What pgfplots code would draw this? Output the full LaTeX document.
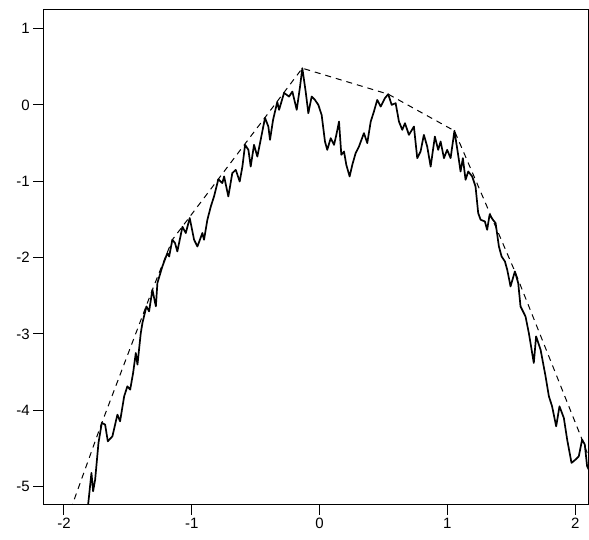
\documentclass[border=0pt]{standalone}
\usepackage{fontspec}
\setmainfont{Liberation Sans}
\usepackage{pgfplots}
\pgfplotsset{compat=1.18}

% path
\pgfplotstableread{
x y
-1.815 -5.301
-1.785 -4.821
-1.772 -5.061
-1.756 -4.908
-1.730 -4.428
-1.704 -4.166
-1.678 -4.188
-1.657 -4.407
-1.621 -4.342
-1.582 -4.058
-1.561 -4.145
-1.529 -3.818
-1.504 -3.687
-1.482 -3.730
-1.459 -3.512
-1.438 -3.250
-1.425 -3.403
-1.399 -2.988
-1.386 -2.857
-1.355 -2.640
-1.334 -2.705
-1.308 -2.421
-1.281 -2.640
-1.269 -2.334
-1.230 -2.116
-1.191 -1.941
-1.177 -1.986
-1.152 -1.767
-1.131 -1.810
-1.113 -1.920
-1.073 -1.597
-1.047 -1.679
-1.016 -1.483
-0.982 -1.767
-0.956 -1.855
-0.917 -1.679
-0.904 -1.767
-0.878 -1.505
-0.851 -1.331
-0.826 -1.200
-0.792 -0.975
-0.761 -1.025
-0.747 -0.938
-0.714 -1.200
-0.683 -0.894
-0.656 -0.851
-0.625 -1.004
-0.604 -0.808
-0.583 -0.524
-0.557 -0.589
-0.539 -0.808
-0.513 -0.524
-0.487 -0.677
-0.461 -0.458
-0.427 -0.170
-0.401 -0.284
-0.388 -0.458
-0.364 -0.196
-0.331 0.039
-0.317 -0.065
-0.278 0.157
-0.239 0.109
-0.213 0.174
-0.179 -0.065
-0.153 0.240
-0.135 0.480
-0.109 0.174
-0.088 -0.109
-0.062 0.109
-0.036 0.065
-0.010 0.000
0.016 -0.131
0.042 -0.480
0.060 -0.589
0.087 -0.436
0.113 -0.524
0.131 -0.393
0.152 -0.219
0.170 -0.654
0.191 -0.611
0.209 -0.785
0.235 -0.938
0.256 -0.785
0.282 -0.632
0.308 -0.546
0.347 -0.370
0.373 -0.501
0.400 -0.219
0.425 -0.088
0.451 0.065
0.478 -0.022
0.511 0.088
0.537 0.140
0.564 0.000
0.595 0.022
0.621 -0.219
0.647 -0.327
0.668 -0.240
0.699 -0.393
0.738 -0.284
0.764 -0.698
0.790 -0.611
0.816 -0.393
0.842 -0.546
0.869 -0.808
0.902 -0.415
0.928 -0.589
0.947 -0.480
0.973 -0.698
0.998 -0.589
1.025 -0.698
1.055 -0.340
1.084 -0.654
1.103 -0.873
1.121 -0.698
1.142 -0.982
1.163 -0.873
1.194 -0.938
1.220 -1.069
1.241 -1.418
1.260 -1.505
1.293 -1.527
1.311 -1.636
1.330 -1.440
1.356 -1.505
1.377 -1.548
1.403 -1.855
1.424 -1.986
1.450 -2.051
1.468 -2.160
1.494 -2.378
1.528 -2.182
1.554 -2.334
1.572 -2.640
1.611 -2.771
1.637 -2.988
1.676 -3.381
1.694 -3.033
1.729 -3.207
1.768 -3.556
1.794 -3.818
1.819 -3.949
1.851 -4.211
1.877 -3.949
1.911 -4.101
1.937 -4.385
1.971 -4.690
2.002 -4.647
2.028 -4.603
2.054 -4.385
2.075 -4.450
2.093 -4.734
2.106 -4.777
}\pathdata

% concave majorant
\pgfplotstableread{
x y
-1.948 -5.301
-1.704 -4.166
-1.308 -2.421
-1.152 -1.767
-0.135 0.480
0.537 0.140
1.055 -0.340
1.528 -2.182
2.054 -4.385
2.099 -4.581
}\hulldata

\begin{document}
\begin{tikzpicture}
\begin{axis}[
  name=ax,
  scale only axis,
  width=545.7pt, height=495pt,
  xmin=-2.162, xmax=2.104,
  ymin=-5.236, ymax=1.243,
  xtick={-2,-1,0,1,2},
  xticklabels={-2,-1,0,1,2},
  ytick={-5,-4,-3,-2,-1,0,1},
  yticklabels={-5,-4,-3,-2,-1,0,1},
  xtick pos=bottom, ytick pos=left,
  tick align=outside,
  major tick length=10pt,
  tick style={black, line width=1pt},
  axis line style={line width=1pt},
  ticklabel style={font=\fontsize{15}{18}\selectfont},
]
\addplot[black, line width=1.7pt, line join=round] table {\pathdata};
\addplot[black, line width=1pt, dash pattern=on 6pt off 5pt] table {\hulldata};
\end{axis}
\pgfresetboundingbox
\path[use as bounding box] ([xshift=-43.3pt,yshift=-35pt]ax.south west) rectangle ([xshift=0.5pt,yshift=10pt]ax.north east);
\end{tikzpicture}
\end{document}
